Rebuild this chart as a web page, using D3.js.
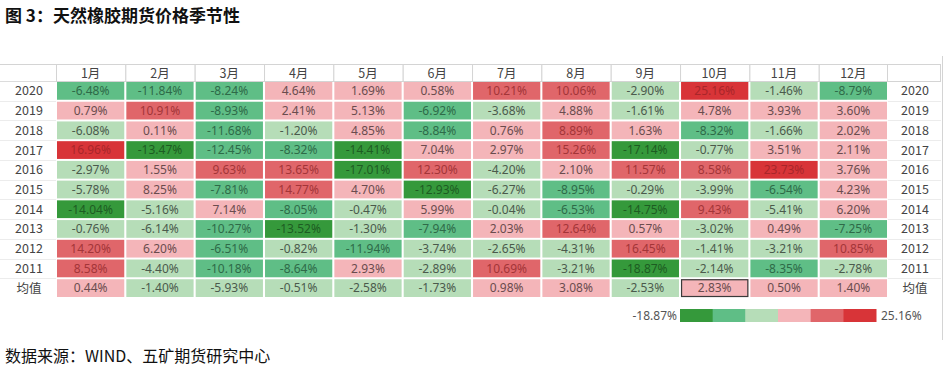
<!DOCTYPE html>
<html><head><meta charset="utf-8">
<script src="https://cdn.jsdelivr.net/npm/d3@7"></script>
<style>
html,body{margin:0;padding:0;background:#fff;}
svg{display:block;}
</style></head>
<body>
<svg id="c" width="946" height="372"></svg>
<script>
const months = ["1月","2月","3月","4月","5月","6月","7月","8月","9月","10月","11月","12月"];
const rowLabels = ["2020","2019","2018","2017","2016","2015","2014","2013","2012","2011","均值"];
const v2020 = [-6.48,-11.84,-8.24,4.64,1.69,0.58,10.21,10.06,-2.90,25.16,-1.46,-8.79];
const v2019 = [0.79,10.91,-8.93,2.41,5.13,-6.92,-3.68,4.88,-1.61,4.78,3.93,3.60];
const v2018 = [-6.08,0.11,-11.68,-1.20,4.85,-8.84,0.76,8.89,1.63,-8.32,-1.66,2.02];
const v2017 = [16.96,-13.47,-12.45,-8.32,-14.41,7.04,2.97,15.26,-17.14,-0.77,3.51,2.11];
const v2016 = [-2.97,1.55,9.63,13.65,-17.01,12.30,-4.20,2.10,11.57,8.58,23.73,3.76];
const v2015 = [-5.78,8.25,-7.81,14.77,4.70,-12.93,-6.27,-8.95,-0.29,-3.99,-6.54,4.23];
const v2014 = [-14.04,-5.16,7.14,-8.05,-0.47,5.99,-0.04,-6.53,-14.75,9.43,-5.41,6.20];
const v2013 = [-0.76,-6.14,-10.27,-13.52,-1.30,-7.94,2.03,12.64,0.57,-3.02,0.49,-7.25];
const v2012 = [14.20,6.20,-6.51,-0.82,-11.94,-3.74,-2.65,-4.31,16.45,-1.41,-3.21,10.85];
const v2011 = [8.58,-4.40,-10.18,-8.64,2.93,-2.89,10.69,-3.21,-18.87,-2.14,-8.35,-2.78];
const vAvg  = [0.44,-1.40,-5.93,-0.51,-2.58,-1.73,0.98,3.08,-2.53,2.83,0.50,1.40];
const seriesRows = [v2020,v2019,v2018,v2017,v2016,v2015,v2014,v2013,v2012,v2011,vAvg];
const binColors = ["#35993b","#5fbe86","#b6ddb8","#f4b5b9","#e0666a","#d83438"];
const textColors = ["#1d5c22","#2e6a48","#4b5a4c","#6a4c4e","#a33538","#a8262a"];
const title = "图 3：天然橡胶期货价格季节性";
const source = "数据来源：WIND、五矿期货研究中心";
const selected = {row:"均值", col:"10月"};

const all = seriesRows.flat();
const vmin = d3.min(all), vmax = d3.max(all);
const color = d3.scaleThreshold()
  .domain([vmin*2/3, vmin/3, 0, vmax/3, vmax*2/3])
  .range(d3.range(6));

const svg = d3.select("#c");
const cellFont = "'Noto Sans','Open Sans',sans-serif";
const cjk = "'Noto Sans CJK SC','Noto Sans',sans-serif";

svg.append("text").attr("x",5).attr("y",22)
  .attr("font-family",cjk).attr("font-weight","bold").attr("font-size",17)
  .attr("fill","#111").text(title);

const x = d3.scaleBand().domain(months).range([57,887]).paddingInner(0.03);
const y = d3.scaleBand().domain(rowLabels).range([82,297]).paddingInner(0.1);
const headerTop = 64, headerBot = 81;
const rightColX0 = 888, rightColX1 = 941;

// frame lines
svg.append("line").attr("x1",0).attr("x2",rightColX1).attr("y1",headerTop+0.5).attr("y2",headerTop+0.5).attr("stroke","#d4d4d4");
svg.append("line").attr("x1",0).attr("x2",rightColX1).attr("y1",headerBot+0.5).attr("y2",headerBot+0.5).attr("stroke","#dcdcdc");
svg.append("line").attr("x1",942.5).attr("x2",942.5).attr("y1",56).attr("y2",340).attr("stroke","#d4d4d4");

// header cells
const step = x.step();
svg.selectAll("rect.hdr").data(months).join("rect")
  .attr("x",d=>x(d)-0.5).attr("y",headerTop+0.5).attr("width",step).attr("height",headerBot-headerTop)
  .attr("fill","#fff").attr("stroke","#d4d4d4");
svg.append("rect").attr("x",rightColX0-0.5).attr("y",headerTop+0.5).attr("width",rightColX1-rightColX0).attr("height",headerBot-headerTop)
  .attr("fill","#fff").attr("stroke","#d4d4d4");
svg.selectAll("text.hdr").data(months).join("text")
  .attr("x",d=>x(d)+x.bandwidth()/2).attr("y",(headerTop+headerBot)/2+5)
  .attr("text-anchor","middle").attr("font-family",cjk).attr("font-size",12.5).attr("fill","#444").text(d=>d);

// row separators in label columns
rowLabels.forEach((r,i)=>{
  const yy = y(r)+y.bandwidth()+y.step()*y.paddingInner()/2;
  if(i<rowLabels.length-1){
    svg.append("line").attr("x1",0).attr("x2",56).attr("y1",Math.round(yy)+0.5).attr("y2",Math.round(yy)+0.5).attr("stroke","#ececec");
    svg.append("line").attr("x1",rightColX0).attr("x2",rightColX1).attr("y1",Math.round(yy)+0.5).attr("y2",Math.round(yy)+0.5).attr("stroke","#ececec");
  }
});

// row labels both sides
[29, 915].forEach(cx=>{
  svg.append("g").selectAll("text").data(rowLabels).join("text")
    .attr("x",cx).attr("y",d=>y(d)+y.bandwidth()/2+4.5)
    .attr("text-anchor","middle").attr("font-family",cjk).attr("font-size",12.5).attr("fill","#444").text(d=>d);
});

// cells
const cells = [];
seriesRows.forEach((vals,i)=>vals.forEach((v,j)=>cells.push({row:rowLabels[i],col:months[j],v})));
const g = svg.append("g");
g.selectAll("rect").data(cells).join("rect")
  .attr("x",d=>x(d.col)).attr("y",d=>y(d.row)).attr("width",x.bandwidth()).attr("height",y.bandwidth())
  .attr("fill",d=>binColors[color(d.v)]);
g.selectAll("text").data(cells).join("text")
  .attr("x",d=>x(d.col)+x.bandwidth()/2).attr("y",d=>y(d.row)+y.bandwidth()/2+4.3)
  .attr("text-anchor","middle").attr("font-family",cellFont).attr("font-size",12)
  .attr("fill",d=>textColors[color(d.v)]).text(d=>d.v.toFixed(2)+"%");
// selected cell border
svg.append("rect").attr("x",x(selected.col)+0.5).attr("y",y(selected.row)+0.5)
  .attr("width",x.bandwidth()-1).attr("height",y.bandwidth()-1)
  .attr("fill","none").attr("stroke","#3a3a3a").attr("stroke-width",1.2);

// legend
const lx = d3.scaleBand().domain(d3.range(6)).range([680,876]);
svg.append("g").selectAll("rect").data(d3.range(6)).join("rect")
  .attr("x",d=>lx(d)).attr("y",309).attr("width",lx.bandwidth()+0.5).attr("height",13)
  .attr("fill",d=>binColors[d]);
svg.append("text").attr("x",677).attr("y",320).attr("text-anchor","end")
  .attr("font-family",cellFont).attr("font-size",12).attr("fill","#555").text(vmin.toFixed(2)+"%");
svg.append("text").attr("x",881).attr("y",320)
  .attr("font-family",cellFont).attr("font-size",12).attr("fill","#555").text(vmax.toFixed(2)+"%");

svg.append("text").attr("x",5).attr("y",362)
  .attr("font-family",cjk).attr("font-size",16).attr("fill","#111").text(source);
</script>
</body></html>
